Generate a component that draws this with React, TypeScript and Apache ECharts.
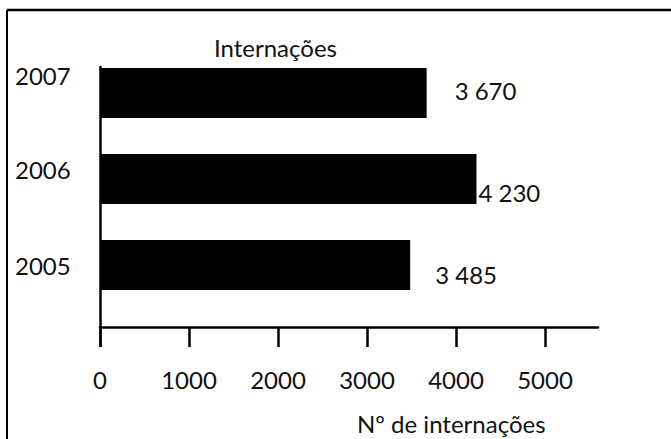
import React, { useEffect, useRef } from "react";
import * as echarts from "echarts";

const years = ["2005", "2006", "2007"];
const internacoes = [3485, 4230, 3670];
const xTicks = [0, 1000, 2000, 3000, 4000, 5000];
const chartTitle = "Internações";
const xAxisTitle = "Nº de internações";

const FONT = "Lato, 'Liberation Sans', sans-serif";

export default function App() {
  const ref = useRef<HTMLDivElement>(null);
  useEffect(() => {
    if (!ref.current) return;
    const chart = echarts.init(ref.current, null, { renderer: "svg" });
    const labelTweaks = [
      { distance: 25, offset: [0, 9] },
      { distance: 2, offset: [0, 13] },
      { distance: 28, offset: [0, -3] },
    ];
    const yLabelShift = [0, 20, 36];
    const rich: Record<string, any> = {};
    years.forEach((y, i) => {
      rich["y" + y] = {
        fontFamily: FONT,
        fontSize: 24,
        color: "#111",
        padding: [0, 0, yLabelShift[i], 0],
      };
    });
    const fmt = (v: number) => {
      const s = String(v);
      return s.length > 3 ? s.slice(0, s.length - 3) + " " + s.slice(-3) : s;
    };
    chart.setOption({
      animation: false,
      backgroundColor: "#fff",
      title: [
        {
          text: chartTitle,
          left: 209,
          top: 30,
          textStyle: { fontFamily: FONT, fontSize: 24, fontWeight: "normal", color: "#111" },
        },
        {
          text: xAxisTitle,
          left: 357,
          top: 410,
          padding: 0,
          textStyle: { fontFamily: FONT, fontSize: 24, lineHeight: 27, fontWeight: "normal", color: "#111" },
        },
      ],
      graphic: [
        { type: "line", shape: { x1: 7, y1: 10, x2: 671, y2: 10 }, style: { stroke: "#000", lineWidth: 2.5 } },
        { type: "line", shape: { x1: 7, y1: 10, x2: 7, y2: 439 }, style: { stroke: "#000", lineWidth: 2 } },
      ],
      grid: [
        { left: 100, top: 50, width: 445, height: 258 },
        { left: 100, top: 67, width: 498, height: 279 },
      ],
      xAxis: [
        {
          gridIndex: 0,
          type: "value",
          min: xTicks[0],
          max: xTicks[xTicks.length - 1],
          interval: xTicks[1] - xTicks[0],
          offset: 19,
          axisLine: { show: false },
          axisTick: { show: true, length: 20, lineStyle: { color: "#000", width: 2.5 } },
          splitLine: { show: false },
          axisLabel: {
            margin: 40,
            fontFamily: FONT,
            fontSize: 24,
            color: "#111",
            formatter: (v: number) => String(v),
          },
        },
        {
          gridIndex: 1,
          type: "value",
          min: 0,
          max: 1,
          offset: -19,
          axisLine: { show: true, onZero: false, lineStyle: { color: "#000", width: 2.5 } },
          axisTick: { show: false },
          axisLabel: { show: false },
          splitLine: { show: false },
        },
      ],
      yAxis: [
        {
          gridIndex: 0,
          type: "category",
          data: years,
          axisLine: { show: false },
          axisTick: { show: false },
          axisLabel: {
            align: "left",
            margin: 85,
            formatter: (v: string) => `{y${v}|${v}}`,
            rich,
          },
        },
        {
          gridIndex: 1,
          type: "value",
          min: 0,
          max: 1,
          axisLine: { show: true, onZero: false, lineStyle: { color: "#000", width: 2.5 } },
          axisTick: { show: false },
          axisLabel: { show: false },
          splitLine: { show: false },
        },
      ],
      series: [
        {
          type: "bar",
          xAxisIndex: 0,
          yAxisIndex: 0,
          barWidth: 50,
          itemStyle: { color: "#000" },
          label: {
            show: true,
            position: "right",
            fontFamily: FONT,
            fontSize: 24,
            color: "#111",
            formatter: (p: any) => fmt(p.value),
          },
          data: internacoes.map((v, i) => ({ value: v, label: labelTweaks[i] })),
        },
      ],
    });
    return () => chart.dispose();
  }, []);
  return (
    <div
      ref={ref}
      style={{ position: "fixed", left: 0, top: 0, width: 671, height: 439 }}
    />
  );
}
